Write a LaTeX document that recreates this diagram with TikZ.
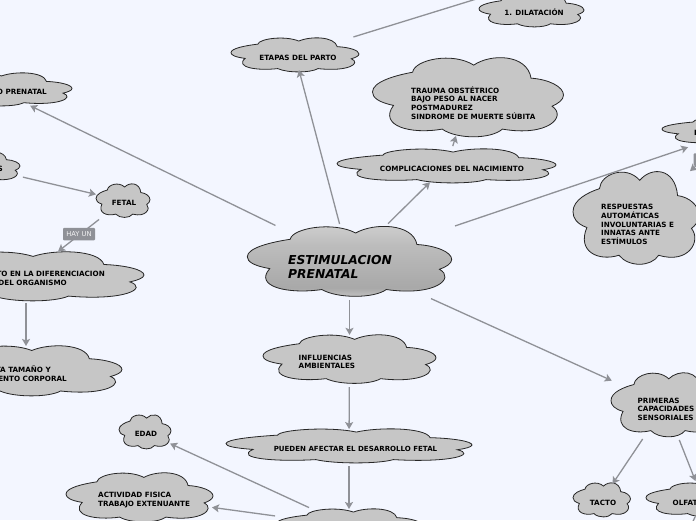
\documentclass[tikz,border=0pt]{standalone}
\usepackage{fontspec}
\setmainfont{DejaVu Sans}
\usetikzlibrary{calc,arrows.meta}
\definecolor{bgc}{HTML}{F3F6FF}
\definecolor{cloudc}{HTML}{C6C6C6}
\definecolor{linec}{HTML}{8F9197}
\pgfdeclareverticalshading{mainshade}{100bp}{color(0bp)=(cloudc!85!black!90); color(25bp)=(cloudc); color(32bp)=(black!34); color(60bp)=(black!26); color(75bp)=(black!18); color(100bp)=(black!18)}
\tikzset{
  x=1pt,y=-1pt,
  cloudline/.style={draw=black!85,line width=.8pt,fill=cloudc},
  lab/.style={font=\fontsize{7.2}{8.6}\selectfont\bfseries,inner sep=0pt,align=left,text=black},
  labc/.style={lab,align=center},
  mainlab/.style={lab,font=\fontsize{12.3}{14}\selectfont\bfseries\itshape},
  conn/.style={draw=linec,line width=1.3pt,-{Stealth[length=7pt,width=8pt,inset=1.5pt]}},
  plain/.style={draw=linec,line width=1.3pt},
  tag/.style={fill=linec,rounded corners=1pt,text=white!90!linec,font=\fontsize{6.7}{8}\selectfont,minimum height=12.5pt,inner sep=0pt},
}
% name, left, top, right, bottom, extra options
\newcommand{\cloudshape}[6]{%
  \path[cloudline,#6] ($(#2,#3)+(.11*#4-.11*#2,.60*#5-.60*#3)$)
   .. controls ($(#2,#3)+(.03*#4-.03*#2,.56*#5-.56*#3)$) and ($(#2,#3)+(0,.50*#5-.50*#3)$) .. ($(#2,#3)+(0,.43*#5-.43*#3)$)
   .. controls ($(#2,#3)+(0,.30*#5-.30*#3)$) and ($(#2,#3)+(.12*#4-.12*#2,.22*#5-.22*#3)$) .. ($(#2,#3)+(.21*#4-.21*#2,.18*#5-.18*#3)$)
   .. controls ($(#2,#3)+(.22*#4-.22*#2,.02*#5-.02*#3)$) and ($(#2,#3)+(.42*#4-.42*#2,-.08*#5+.08*#3)$) .. ($(#2,#3)+(.53*#4-.53*#2,.09*#5-.09*#3)$)
   .. controls ($(#2,#3)+(.62*#4-.62*#2,-.06*#5+.06*#3)$) and ($(#2,#3)+(.81*#4-.81*#2,-.05*#5+.05*#3)$) .. ($(#2,#3)+(.83*#4-.83*#2,.255*#5-.255*#3)$)
   .. controls ($(#2,#3)+(.92*#4-.92*#2,.27*#5-.27*#3)$) and ($(#2,#3)+(#4-#2,.36*#5-.36*#3)$) .. ($(#2,#3)+(#4-#2,.47*#5-.47*#3)$)
   .. controls ($(#2,#3)+(#4-#2,.53*#5-.53*#3)$) and ($(#2,#3)+(.97*#4-.97*#2,.58*#5-.58*#3)$) .. ($(#2,#3)+(.94*#4-.94*#2,.61*#5-.61*#3)$)
   .. controls ($(#2,#3)+(1.02*#4-1.02*#2,.74*#5-.74*#3)$) and ($(#2,#3)+(.92*#4-.92*#2,#5-#3)$) .. ($(#2,#3)+(.68*#4-.68*#2,.90*#5-.90*#3)$)
   .. controls ($(#2,#3)+(.62*#4-.62*#2,1.03*#5-1.03*#3)$) and ($(#2,#3)+(.44*#4-.44*#2,1.03*#5-1.03*#3)$) .. ($(#2,#3)+(.365*#4-.365*#2,.90*#5-.90*#3)$)
   .. controls ($(#2,#3)+(.2*#4-.2*#2,.97*#5-.97*#3)$) and ($(#2,#3)+(.03*#4-.03*#2,.86*#5-.86*#3)$) .. cycle;
  \coordinate (#1) at ($(#2,#3)!.5!(#4,#5)$);
}
\begin{document}
\begin{tikzpicture}
\useasboundingbox (0,0) rectangle (696,520);
\fill[bgc] (0,0) rectangle (696,520);
\begin{scope}
\clip (0,0) rectangle (696,520);
\cloudshape{main}{247.3}{226.7}{451.7}{296.5}{shading=mainshade}
\cloudshape{etapas}{231}{38}{359}{72}{}
\cloudshape{dilat}{479}{-5}{584}{27}{}
\cloudshape{trauma}{372.5}{58}{563.5}{137}{}
\cloudshape{compl}{337}{149}{556}{183}{}
\cloudshape{prenatal}{-78}{73}{72}{106}{}
\cloudshape{scl}{-60}{152}{20}{182}{}
\cloudshape{fetal}{96}{184}{150}{217.5}{}
\cloudshape{difer}{-92}{252}{144}{301}{}
\cloudshape{tam}{-70}{346}{122}{396}{}
\cloudshape{infl}{263}{335}{436}{383.5}{}
\cloudshape{pueden}{226}{429}{472}{463}{}
\cloudshape{bot}{276.5}{509}{421.5}{543}{}
\cloudshape{edad}{119}{415}{171}{449}{}
\cloudshape{activ}{66}{473}{213}{522}{}
\cloudshape{prim}{611}{373}{720}{437}{}
\cloudshape{tacto}{573}{483}{630.5}{517}{}
\cloudshape{olf}{646}{483}{760}{517}{}
\cloudshape{rtop}{662}{117}{810}{145}{}
\cloudshape{resp}{573}{172}{699}{264.5}{}
\coordinate (offtop) at (500,-8.3);
\coordinate (offbot) at (688,532);

\node[mainlab,anchor=west] (tmain) at (288,267) {ESTIMULACION\\PRENATAL};
\node[labc] (tetapas) at (298,57.5) {ETAPAS DEL PARTO};
\node[labc] (tdil) at (534,12.5) {1. DILATACIÓN};
\node[lab,anchor=west] (ttrauma) at (411,103) {TRAUMA OBSTÉTRICO\\BAJO PESO AL NACER\\POSTMADUREZ\\SINDROME DE MUERTE SÚBITA};
\node[labc] (tcompl) at (452,168.5) {COMPLICACIONES DEL NACIMIENTO};
\node[lab,anchor=east] (tpren) at (47,92) {O PRENATAL};
\node[lab,anchor=east] (ts) at (3,168.5) {S};
\node[labc] (tfetal) at (124,202.5) {FETAL};
\node[lab,anchor=east,align=right] (tdifer) at (105,278.5) {TO EN LA DIFERENCIACION\\DEL ORGANISMO\hspace*{38pt}};
\node[lab,anchor=east,align=right] (ttam) at (67,373.5) {TA TAMAÑO Y\hspace*{16pt}\\ENTO CORPORAL};
\node[lab,anchor=west] (tinfl) at (298.5,362) {INFLUENCIAS\\AMBIENTALES};
\node[labc] (tpued) at (355.5,448.5) {\fontsize{7.05}{8.6}\selectfont PUEDEN AFECTAR EL DESARROLLO FETAL};
\node[labc] (tedad) at (146,433.5) {EDAD};
\node[lab,anchor=west] (tact) at (98,500) {ACTIVIDAD FISICA\\TRABAJO EXTENUANTE};
\node[lab,anchor=west] (tprim) at (637.5,409) {PRIMERAS\\CAPACIDADES\\SENSORIALES};
\node[labc] (ttacto) at (603,502.5) {TACTO};
\node[lab,anchor=west] (tolf) at (672.5,502.5) {OLFATO};
\node[lab,anchor=west] (trtop) at (694,133) {I};
\node[lab,anchor=west] (tresp) at (601,224.5) {RESPUESTAS\\AUTOMÁTICAS\\INVOLUNTARIAS E\\INNATAS ANTE\\ESTÍMULOS};

\draw[conn] ($(main)!.182!(etapas)$) -- ($(main)!.927!(etapas)$);
\draw[plain] ($(etapas)!.285!(offtop)$) -- (offtop);
\draw[conn] ($(main)!.397!(compl)$) -- ($(main)!.83!(compl)$);
\draw[conn] ($(compl)!.29!(trauma)$) -- ($(compl)!.44!(trauma)$);
\draw[conn] ($(main)!.21!(prenatal)$) -- ($(main)!.906!(prenatal)$);
\draw[conn] ($(main)!.273!(rtop)$) -- ($(main)!.876!(rtop)$);
\draw[conn] ($(rtop)!.30!(resp)$) -- ($(rtop)!.46!(resp)$);
\draw[conn] ($(main)!.258!(prim)$) -- ($(main)!.83!(prim)$);
\draw[conn] ($(prim)!.358!(tacto)$) -- ($(prim)!.832!(tacto)$);
\draw[conn] ($(prim)!.368!(olf)$) -- ($(prim)!.8!(olf)$);
\draw[plain] ($(olf)!.53!(offbot)$) -- (offbot);
\draw[conn] ($(main)!.393!(infl)$) -- ($(main)!.75!(infl)$);
\draw[conn] ($(infl)!.32!(pueden)$) -- ($(infl)!.805!(pueden)$);
\draw[conn] ($(pueden)!.25!(bot)$) -- ($(pueden)!.7875!(bot)$);
\draw[conn] ($(bot)!.196!(edad)$) -- ($(bot)!.877!(edad)$);
\draw[conn] ($(bot)!.353!(activ)$) -- ($(bot)!.654!(activ)$);
\draw[conn] ($(scl)!.30!(fetal)$) -- ($(scl)!.811!(fetal)$);
\draw[conn] ($(fetal)!.247!(difer)$) -- ($(fetal)!.67!(difer)$);
\draw[conn] ($(difer)!.28!(tam)$) -- ($(difer)!.735!(tam)$);
\node[tag,minimum width=32pt] (hayun) at (79,234) {HAY UN};
\node[tag,minimum width=33pt] (rtag) at (710,159.5) {};
\end{scope}
\end{tikzpicture}
\end{document}
